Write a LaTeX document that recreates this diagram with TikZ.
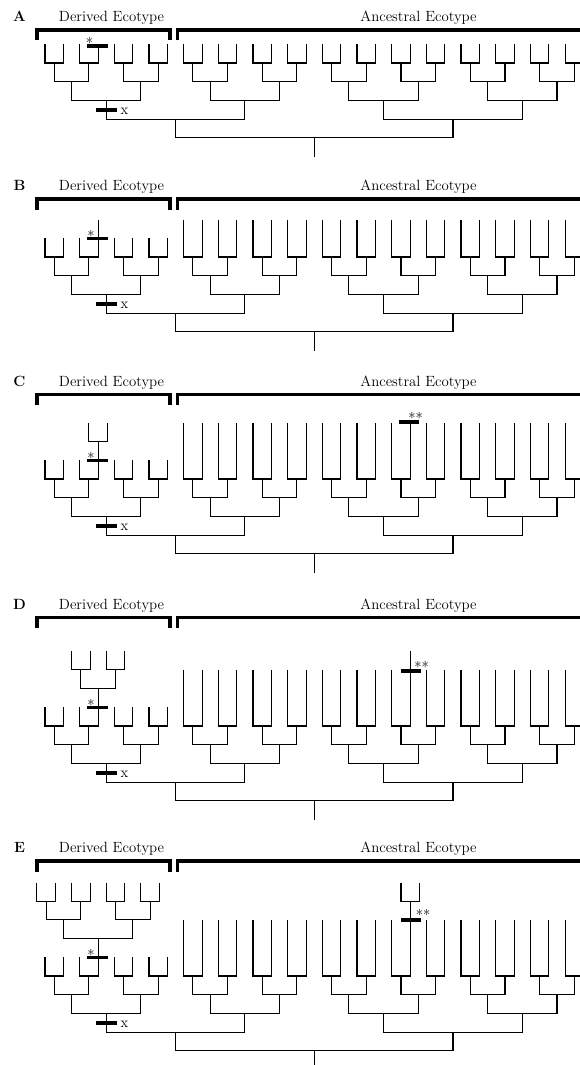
\documentclass[tikz,border=0pt]{standalone}
\usepackage{fontspec}
\usetikzlibrary{calc}

\newcommand{\brlen}{18.7}
\tikzset{
  branch/.style={line width=1.1pt},
  groupbar/.style={line width=3.3pt},
  cutbar/.style={fill=black, inner sep=0pt, minimum width=21pt, minimum height=3.5pt},
  lbl/.style={anchor=base, inner sep=0pt, font=\fontsize{14.8}{18}\selectfont},
  plbl/.style={lbl, font=\fontsize{14.8}{18}\selectfont\bfseries},
}

\begin{document}
\begin{tikzpicture}[x=1pt,y=-1pt]
  \useasboundingbox (0,0) rectangle (580,1065);
  \clip (0,0) rectangle (580,1065);

  % the same 32-tip tree in every panel
  \foreach \pn/\cy/\alen/\hy in {A/63/1/30, B/257/2/199, C/479/3/394.5, D/726/3/617.5, E/976/3/861}{
    % header
    \node[plbl] (\pn-let) at (19.5,\hy-8.5) {\pn};
    \node[lbl] (\pn-der) at (111.5,\hy-8.5) {Derived Ecotype};
    \node[lbl] (\pn-anc) at (418.5,\hy-8.5) {Ancestral Ecotype};
    \draw[groupbar] (37,\hy+10.5) |- (170,\hy) -- (170,\hy+10.5);
    \draw[groupbar] (177.5,\hy+10.5) |- (600,\hy);
    % tips and cherries
    \foreach \k in {0,...,15}{
      \pgfmathsetmacro\xl{45+34.67*\k}
      \pgfmathsetmacro\ttop{\k<4 ? \cy-\brlen : \cy-\alen*\brlen}
      \pgfmathtruncatemacro\il{2*\k}
      \pgfmathtruncatemacro\ir{2*\k+1}
      \coordinate (\pn-t\il) at (\xl,\ttop);
      \coordinate (\pn-t\ir) at (\xl+18.5,\ttop);
      \coordinate (\pn-c\k) at (\xl+9.25,\cy);
      \draw[branch] (\pn-t\il) |- (\pn-c\k) -| (\pn-t\ir);
    }
    \foreach \j in {0,...,7}{
      \pgfmathtruncatemacro\ca{2*\j}
      \pgfmathtruncatemacro\cb{2*\j+1}
      \coordinate (\pn-m\j) at ($(\pn-c\ca)!.5!(\pn-c\cb)+(0,\brlen)$);
      \draw[branch] (\pn-c\ca) |- (\pn-m\j) -| (\pn-c\cb);
    }
    \foreach \j in {0,...,3}{
      \pgfmathtruncatemacro\ca{2*\j}
      \pgfmathtruncatemacro\cb{2*\j+1}
      \coordinate (\pn-g\j) at ($(\pn-m\ca)!.5!(\pn-m\cb)+(0,\brlen)$);
      \draw[branch] (\pn-m\ca) |- (\pn-g\j) -| (\pn-m\cb);
    }
    \foreach \j in {0,1}{
      \pgfmathtruncatemacro\ca{2*\j}
      \pgfmathtruncatemacro\cb{2*\j+1}
      \coordinate (\pn-h\j) at ($(\pn-g\ca)!.5!(\pn-g\cb)+(0,\brlen)$);
      \draw[branch] (\pn-g\ca) |- (\pn-h\j) -| (\pn-g\cb);
    }
    \coordinate (\pn-r) at ($(\pn-h0)!.5!(\pn-h1)+(0,\brlen)$);
    \draw[branch] (\pn-h0) |- (\pn-r) -| (\pn-h1);
    \coordinate (\pn-b) at ($(\pn-r)+(0,\brlen)$);
    \draw[branch] (\pn-r) -- (\pn-b);
    % x on the derived stem
    \node[cutbar] (\pn-xbar) at ($(\pn-g0)+(0,\brlen/2)$) {};
    \node[lbl] (\pn-x) at ($(\pn-xbar)+(18.3,4.4)$) {x};
  }

  % A
  \node[cutbar] (A-sbar) at ($(A-t3)+(-0.7,1.5)$) {};
  \node[lbl] (A-star) at ($(A-sbar)+(-8,3)$) {*};

  % B
  \coordinate (B-s) at ($(B-t3)+(0,-\brlen)$);
  \draw[branch] (B-t3) -- (B-s);
  \node[cutbar] (B-sbar) at ($(B-t3)+(-0.7,0)$) {};
  \node[lbl] (B-star) at ($(B-sbar)+(-6.5,3)$) {*};

  % C
  \coordinate (C-s) at ($(C-t3)+(0,-\brlen)$);
  \coordinate (C-s0) at ($(C-s)+(-9.25,-\brlen)$);
  \coordinate (C-s1) at ($(C-s)+(9.25,-\brlen)$);
  \draw[branch] (C-t3) -- (C-s);
  \draw[branch] (C-s0) |- (C-s) -| (C-s1);
  \node[cutbar] (C-sbar) at ($(C-t3)+(-0.7,0)$) {};
  \node[lbl] (C-star) at ($(C-sbar)+(-6.5,3)$) {*};
  \node[cutbar, minimum width=20pt] (C-qbar) at ($(C-t21)+(-1,-1)$) {};
  \node[lbl] (C-stars) at ($(C-qbar)+(6.5,2)$) {**};

  % D
  \coordinate (D-s) at ($(D-t3)+(0,-\brlen)$);
  \draw[branch] (D-t3) -- (D-s);
  \foreach \j/\dx in {0/-17.33,1/17.33}{
    \pgfmathtruncatemacro\il{2*\j}
    \pgfmathtruncatemacro\ir{2*\j+1}
    \coordinate (D-sc\j) at ($(D-s)+(\dx,-\brlen)$);
    \coordinate (D-st\il) at ($(D-sc\j)+(-9.25,-\brlen)$);
    \coordinate (D-st\ir) at ($(D-sc\j)+(9.25,-\brlen)$);
    \draw[branch] (D-sc\j) |- (D-s);
    \draw[branch] (D-st\il) |- (D-sc\j) -| (D-st\ir);
  }
  \node[cutbar] (D-sbar) at ($(D-t3)+(-0.7,0)$) {};
  \node[lbl] (D-star) at ($(D-sbar)+(-6.5,3)$) {*};
  \coordinate (D-q) at ($(D-t21)+(0,-\brlen)$);
  \draw[branch] (D-t21) -- (D-q);
  \node[cutbar, minimum width=20pt] (D-qbar) at ($(D-t21)+(0.8,1)$) {};
  \node[lbl] (D-stars) at ($(D-qbar)+(10.5,2)$) {**};

  % E
  \coordinate (E-s) at ($(E-t3)+(0,-\brlen)$);
  \draw[branch] (E-t3) -- (E-s);
  \foreach \j/\dx in {0/-34.67,1/34.67}{
    \coordinate (E-sm\j) at ($(E-s)+(\dx,-\brlen)$);
    \draw[branch] (E-sm\j) |- (E-s);
  }
  \foreach \k/\j/\dx in {0/0/-17.33,1/0/17.33,2/1/-17.33,3/1/17.33}{
    \pgfmathtruncatemacro\il{2*\k}
    \pgfmathtruncatemacro\ir{2*\k+1}
    \coordinate (E-sc\k) at ($(E-sm\j)+(\dx,-\brlen)$);
    \coordinate (E-st\il) at ($(E-sc\k)+(-9.25,-\brlen)$);
    \coordinate (E-st\ir) at ($(E-sc\k)+(9.25,-\brlen)$);
    \draw[branch] (E-sc\k) |- (E-sm\j);
    \draw[branch] (E-st\il) |- (E-sc\k) -| (E-st\ir);
  }
  \node[cutbar] (E-sbar) at ($(E-t3)+(-0.7,0)$) {};
  \node[lbl] (E-star) at ($(E-sbar)+(-6.5,3)$) {*};
  \coordinate (E-q) at ($(E-t21)+(0,-\brlen)$);
  \coordinate (E-q0) at ($(E-q)+(-9.25,-\brlen)$);
  \coordinate (E-q1) at ($(E-q)+(9.25,-\brlen)$);
  \draw[branch] (E-t21) -- (E-q);
  \draw[branch] (E-q0) |- (E-q) -| (E-q1);
  \node[cutbar, minimum width=20pt] (E-qbar) at ($(E-t21)+(0.8,0)$) {};
  \node[lbl] (E-stars) at ($(E-qbar)+(12,1)$) {**};
\end{tikzpicture}
\end{document}
